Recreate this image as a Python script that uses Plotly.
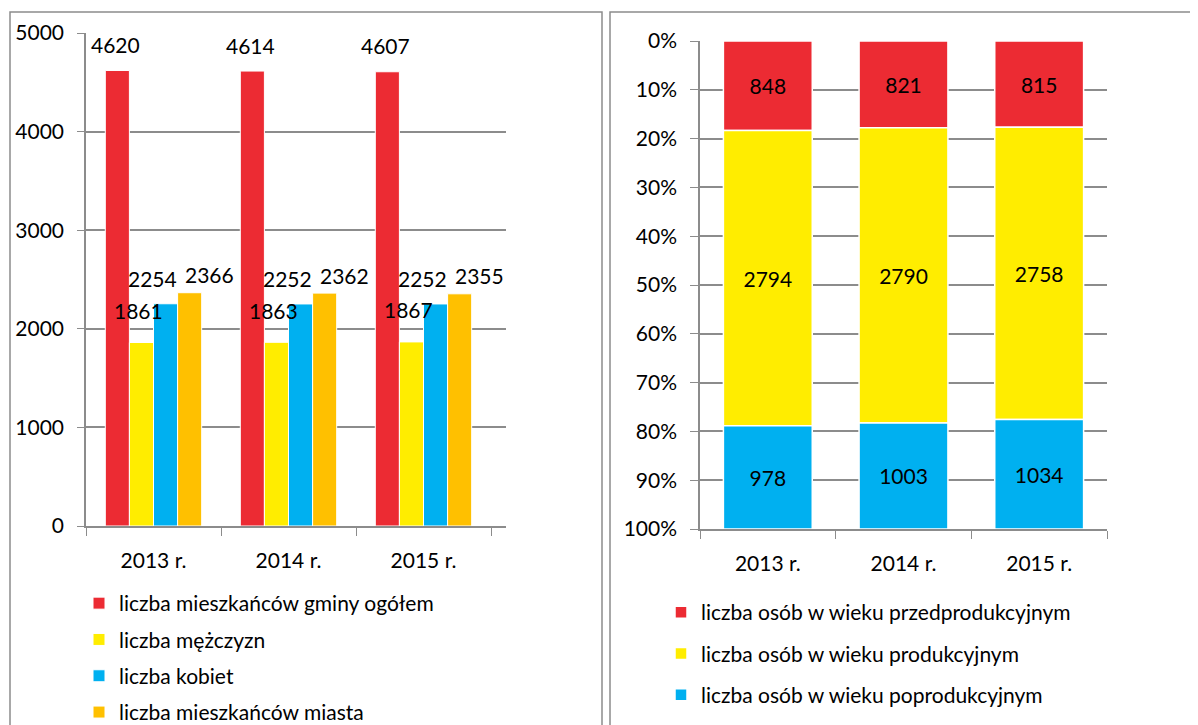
import plotly.graph_objects as go

years = ['2013 r.', '2014 r.', '2015 r.']

# left chart
ogolem = [4620, 4614, 4607]
mezczyzni = [1861, 1863, 1867]
kobiety = [2254, 2252, 2252]
miasto = [2366, 2362, 2355]

# right chart
przedprod = [848, 821, 815]
prod = [2794, 2790, 2758]
poprod = [978, 1003, 1034]

RED = '#EC2B33'
YELLOW = '#FFED00'
BLUE = '#00B0F0'
ORANGE = '#FFC000'
GRID = '#8C8C8C'
FONT = 'Lato'
FS = 21
# page body has an 8px margin, so the figure is 8px smaller and shifted
OFF = 8
FW, FH = 1198 - OFF, 725 - OFF


def px(x):
    return (x - OFF) / FW


def py(y):
    return 1 - (y - OFF) / FH


fig = go.Figure()

left_series = [
    ('liczba mieszkańców gminy ogółem', ogolem, RED),
    ('liczba mężczyzn', mezczyzni, YELLOW),
    ('liczba kobiet', kobiety, BLUE),
    ('liczba mieszkańców miasta', miasto, ORANGE),
]
for i, (name, vals, col) in enumerate(left_series):
    fig.add_trace(go.Bar(x=years, y=vals, name=name, marker_color=col,
                         marker_line=dict(color='white', width=1),
                         xaxis='x', yaxis='y', legend='legend',
                         legendgroup='l%d' % i))

right_series = [
    ('liczba osób w wieku przedprodukcyjnym', przedprod, RED),
    ('liczba osób w wieku produkcyjnym', prod, YELLOW),
    ('liczba osób w wieku poprodukcyjnym', poprod, BLUE),
]
totals = [sum(t) for t in zip(przedprod, prod, poprod)]
base = [0.0] * len(years)
for i, (name, vals, col) in enumerate(right_series):
    pct = [v / t * 100 for v, t in zip(vals, totals)]
    fig.add_trace(go.Bar(x=years, y=pct, base=list(base), name=name, marker_color=col,
                         marker_line=dict(color='white', width=1.5), width=0.655,
                         text=vals, textposition='inside', insidetextanchor='middle',
                         textangle=0, textfont=dict(size=FS, color='black', family=FONT),
                         hovertext=vals, offsetgroup='stack',
                         xaxis='x2', yaxis='y2', legend='legend2',
                         legendgroup='r%d' % i))
    base = [b + p for b, p in zip(base, pct)]

# value labels for the grouped bars (offsets in px from group centre / bar top)
label_shift = [(-38, 26), (-15, 32), (-1, 25), (56, 18)]
annotations = []
for (name, vals, col), (dx, dy) in zip(left_series, label_shift):
    for yr, v in zip(years, vals):
        annotations.append(dict(x=yr, y=v, xref='x', yref='y', text=str(v),
                                showarrow=False, xshift=dx, yshift=dy,
                                font=dict(size=FS, color='black', family=FONT)))

axis_common = dict(showline=True, linecolor=GRID, linewidth=1.5,
                   tickfont=dict(size=FS, color='black', family=FONT))

fig.update_layout(
    width=FW, height=FH,
    margin=dict(l=0, r=0, t=0, b=0, autoexpand=False),
    paper_bgcolor='white', plot_bgcolor='white',
    barmode='group', bargap=0.286, bargroupgap=0,
    font=dict(family=FONT, size=FS, color='black'),
    xaxis=dict(domain=[px(86), px(506)], anchor='y', ticks='outside',
               tickson='boundaries', ticklen=8, tickcolor=GRID,
               ticklabelstandoff=15, **axis_common),
    yaxis=dict(domain=[py(526), py(33)], anchor='x', range=[0, 5000],
               dtick=1000, showgrid=True, gridcolor=GRID, gridwidth=1.5,
               ticks='outside', ticklen=7, tickcolor=GRID, zeroline=False,
               ticklabelstandoff=9, **axis_common),
    xaxis2=dict(domain=[px(700), px(1107)], anchor='y2', ticks='outside',
                tickson='boundaries', ticklen=8, tickcolor=GRID,
                ticklabelstandoff=15, **axis_common),
    yaxis2=dict(domain=[py(529), py(41)], anchor='x2', range=[100, 0],
                dtick=10, ticksuffix='%', showgrid=True, gridcolor=GRID,
                gridwidth=1.5, ticks='outside', ticklen=8, tickcolor=GRID,
                zeroline=False, ticklabelstandoff=9, **axis_common),
    annotations=annotations,
    legend=dict(x=px(79), y=py(583), xanchor='left', yanchor='top',
                traceorder='grouped', tracegroupgap=6,
                font=dict(size=FS, color='black', family=FONT), bgcolor='rgba(0,0,0,0)'),
    legend2=dict(x=px(661), y=py(592), xanchor='left', yanchor='top',
                 traceorder='grouped', tracegroupgap=11,
                 font=dict(size=FS, color='black', family=FONT), bgcolor='rgba(0,0,0,0)'),
    shapes=[
        dict(type='rect', xref='paper', yref='paper', x0=px(10), x1=px(602),
             y0=-0.05, y1=py(12), line=dict(color=GRID, width=1.5)),
        dict(type='rect', xref='paper', yref='paper', x0=px(610), x1=1.05,
             y0=-0.05, y1=py(12), line=dict(color=GRID, width=1.5)),
    ],
)

fig.write_html('out.html')
